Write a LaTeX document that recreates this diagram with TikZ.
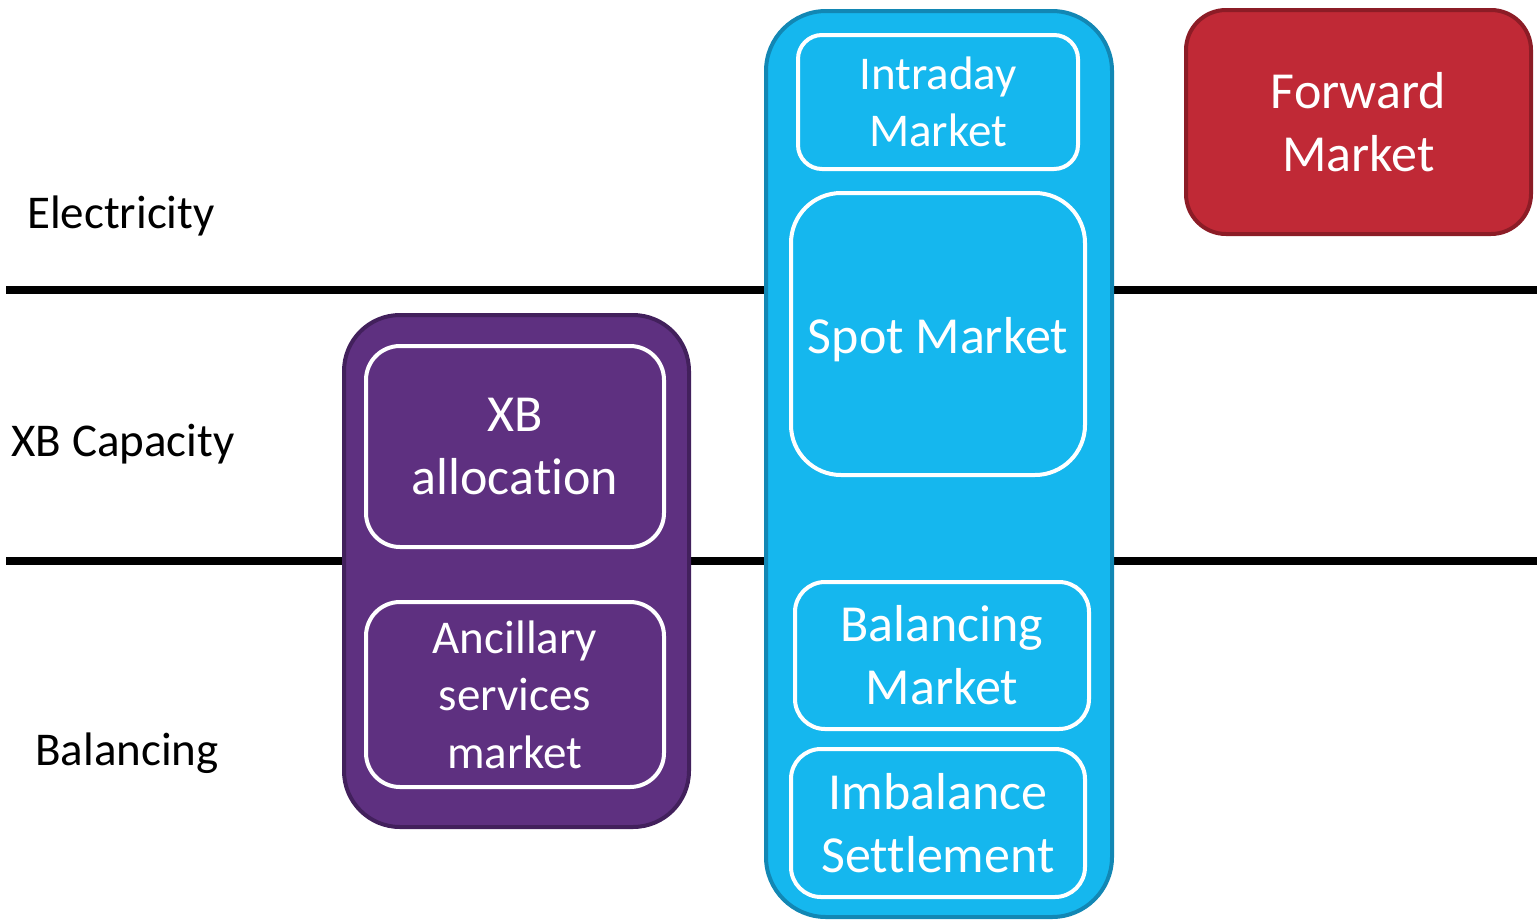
\documentclass[tikz,border=0pt]{standalone}
\usepackage{fontspec}
\setmainfont[Ligatures={NoCommon}]{Carlito}
\definecolor{fwdfill}{RGB}{192,41,54}
\definecolor{fwdline}{RGB}{140,28,38}
\definecolor{purfill}{RGB}{94,48,128}
\definecolor{purline}{RGB}{66,32,92}
\definecolor{bluefill}{RGB}{21,183,238}
\definecolor{blueline}{RGB}{18,135,180}
\begin{document}
\begin{tikzpicture}[x=0.5pt,y=-0.5pt,
  outerbox/.style={draw, line width=2pt, inner sep=0pt, align=center, text=white},
  innerbox/.style={draw=white, line width=2pt, inner sep=0pt, align=center, text=white},
  bigtxt/.style={font=\fontsize{26}{31.5}\selectfont},
  midtxt/.style={font=\fontsize{23.5}{28.7}\selectfont},
  rowlabel/.style={font=\fontsize{23.5}{28}\selectfont, text=black, inner sep=0pt},
  sepline/.style={line width=4pt, black}]
\useasboundingbox (0,0) rectangle (1537,922);
% separator lines
\coordinate (l1a) at (6,290);
\coordinate (l1b) at (1537,290);
\coordinate (l2a) at (6,561);
\coordinate (l2b) at (1537,561);
\draw[sepline] (l1a) -- (l1b);
\draw[sepline] (l2a) -- (l2b);
% row labels
\node[rowlabel] (elec) at (121,216) {Electricity};
\node[rowlabel] (xbcap) at (123,444) {XB Capacity};
\node[rowlabel] (bal) at (127,753) {Balancing};
% forward market
\node[outerbox, bigtxt, fill=fwdfill, draw=fwdline, rounded corners=20pt,
  minimum width=172.5pt, minimum height=112pt] (fwd) at (1358.5,122) {Forward\\Market};
% purple group
\node[outerbox, fill=purfill, draw=purline, rounded corners=28pt,
  minimum width=172.5pt, minimum height=256pt] (purple) at (516.5,571) {};
\node[innerbox, bigtxt, rounded corners=17pt,
  minimum width=149pt, minimum height=100.5pt] (xballoc) at (515,446.5) {XB\\allocation};
\node[innerbox, midtxt, rounded corners=17pt,
  minimum width=149pt, minimum height=92.5pt] (ancil) at (515,694.5) {Ancillary\\services\\market};
% blue group
\node[outerbox, fill=bluefill, draw=blueline, rounded corners=30pt,
  minimum width=173pt, minimum height=453pt] (blue) at (939,464) {};
\node[innerbox, midtxt, rounded corners=12pt,
  minimum width=140pt, minimum height=67pt] (intra) at (938,102) {Intraday\\Market};
\node[innerbox, bigtxt, rounded corners=25pt,
  minimum width=147pt, minimum height=141pt] (spot) at (938,334) {\raisebox{-3pt}[\height][\depth]{Spot Market}};
\node[innerbox, bigtxt, rounded corners=15pt,
  minimum width=147pt, minimum height=73.5pt] (balmkt) at (942,655.5) {Balancing\\Market};
\node[innerbox, bigtxt, rounded corners=15pt,
  minimum width=147pt, minimum height=74pt] (imbal) at (938,823) {Imbalance\\Settlement};
\end{tikzpicture}
\end{document}
